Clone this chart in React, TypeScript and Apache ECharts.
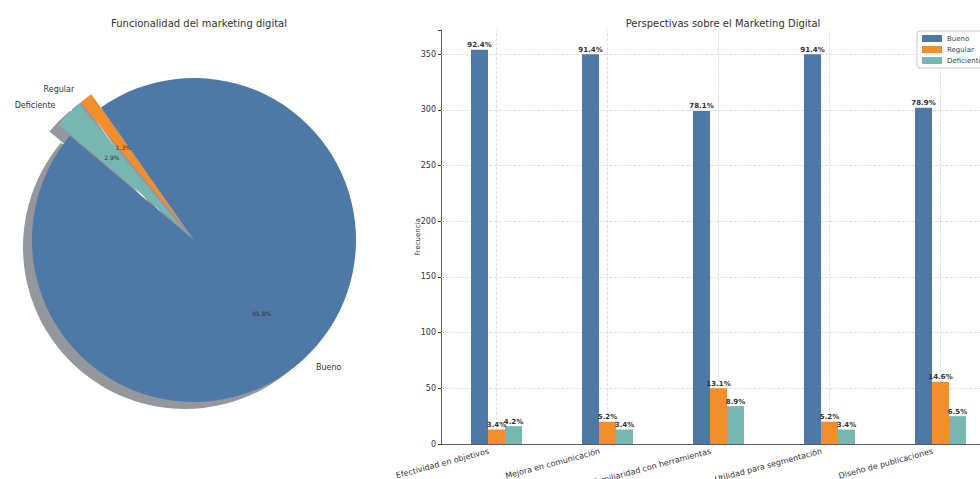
import React, { useEffect, useRef } from "react";
import * as echarts from "echarts";

// Pie: overall rating of digital marketing usefulness
const pieNames = ["Bueno", "Regular", "Deficiente"];
const pieValues = [367, 5, 11];
const pieExploded = [false, true, true];

// Grouped bars: answers per statement
const categories = [
  "Efectividad en objetivos",
  "Mejora en comunicación",
  "Familiaridad con herramientas",
  "Utilidad para segmentación",
  "Diseño de publicaciones",
];
const bueno = [354, 350, 299, 350, 302];
const regular = [13, 20, 50, 20, 56];
const deficiente = [16, 13, 34, 13, 25];
const yTicks = [0, 50, 100, 150, 200, 250, 300, 350];

const COLORS = ["#4e79a7", "#f28e2b", "#76b7b2"];
const FONT = "DejaVu Sans";

export default function App() {
  const ref = useRef<HTMLDivElement>(null);

  useEffect(() => {
    if (!ref.current) return;
    const chart = echarts.init(ref.current, undefined, { renderer: "svg" });

    const R = 162;
    const cx = 194;
    const cy = 240;
    const explodeOffset = R * 0.1;
    const pieTotal = pieValues.reduce((a, b) => a + b, 0);

    const pieData = (colorFn: (i: number) => string) =>
      pieNames.map((name, i) => ({
        name,
        value: pieValues[i],
        selected: pieExploded[i],
        itemStyle: { color: colorFn(i) },
      }));

    const pieCommon = {
      type: "pie" as const,
      startAngle: 140,
      clockwise: false,
      selectedMode: "multiple" as const,
      selectedOffset: explodeOffset,
      avoidLabelOverlap: false,
      silent: true,
      emphasis: { disabled: true },
      legendHoverLink: false,
    };

    const groups = [bueno, regular, deficiente];
    const totals = categories.map((_, i) => bueno[i] + regular[i] + deficiente[i]);
    const yMax = Math.max(...bueno, ...regular, ...deficiente) * 1.05;

    const barSeries = pieNames.map((name, s) => ({
      type: "bar" as const,
      name,
      data: groups[s],
      barWidth: 17,
      barGap: "0%",
      itemStyle: { color: COLORS[s] },
      z: 3,
      label: {
        show: true,
        position: "top" as const,
        distance: 1,
        fontFamily: FONT,
        fontSize: 7,
        fontWeight: "bold" as const,
        color: "#333",
        formatter: (p: any) =>
          ((groups[s][p.dataIndex] / totals[p.dataIndex]) * 100).toFixed(1) + "%",
      },
    }));

    chart.setOption({
      animation: false,
      textStyle: { fontFamily: FONT },
      title: [
        {
          text: "Funcionalidad del marketing digital",
          left: cx,
          top: 13,
          textAlign: "center",
          textStyle: { fontFamily: FONT, fontSize: 10, fontWeight: "normal", color: "#333" },
        },
        {
          text: "Perspectivas sobre el Marketing Digital",
          left: 718,
          top: 13,
          textAlign: "center",
          textStyle: { fontFamily: FONT, fontSize: 10, fontWeight: "normal", color: "#333" },
        },
      ],
      legend: {
        data: pieNames,
        orient: "vertical",
        left: 917,
        top: 31,
        itemWidth: 20,
        itemHeight: 7,
        itemGap: 4,
        padding: [4, 5],
        borderColor: "#cccccc",
        borderWidth: 1,
        borderRadius: 3,
        backgroundColor: "#ffffff",
        icon: "rect",
        textStyle: { fontFamily: FONT, fontSize: 7, color: "#444" },
        selectedMode: false,
      },
      grid: {
        left: 441,
        width: 555,
        top: 30,
        bottom: 35,
        containLabel: false,
        outerBoundsMode: "none",
      },
      xAxis: {
        type: "category",
        data: categories,
        axisLine: { lineStyle: { color: "#333", width: 0.8 } },
        axisTick: { alignWithLabel: true, length: 3, lineStyle: { color: "#333" } },
        axisLabel: {
          rotate: 15,
          interval: 0,
          hideOverlap: false,
          fontFamily: FONT,
          fontSize: 8,
          color: "#333",
          margin: 5,
          padding: [0, 8, 0, 0],
        },
        splitLine: { show: false },
      },
      yAxis: {
        type: "value",
        min: 0,
        max: yMax,
        interval: 50,
        name: "Frecuencia",
        nameLocation: "middle",
        nameGap: 20,
        nameMoveOverlap: false,
        nameTextStyle: { fontFamily: FONT, fontSize: 7, color: "#333" },
        axisLine: { show: true, lineStyle: { color: "#333", width: 0.8 } },
        axisTick: { show: true, length: 3, lineStyle: { color: "#333" } },
        axisLabel: {
          fontFamily: FONT,
          fontSize: 8,
          color: "#333",
          margin: 5,
          formatter: (v: number) => (yTicks.includes(v) ? String(v) : ""),
        },
        splitLine: { show: false },
      },
      series: [
        // drop shadow under the pie
        {
          ...pieCommon,
          name: "sombra",
          center: [cx - 9, cy + 7],
          radius: [0, R],
          label: { show: false },
          labelLine: { show: false },
          data: pieData(() => "#94979c"),
          z: 1,
        },
        // pie slices with outer names
        {
          ...pieCommon,
          name: "Funcionalidad",
          center: [cx, cy],
          radius: [0, R],
          label: {
            show: true,
            position: "outside",
            fontFamily: FONT,
            fontSize: 8,
            color: "#333",
          },
          labelLine: { show: false, length: explodeOffset - 5, length2: 0 },
          data: pieData((i) => COLORS[i]),
          z: 2,
        },
        // percentages placed at 0.6 of the radius
        {
          ...pieCommon,
          name: "porcentajes",
          center: [cx, cy],
          radius: [0, R * 1.2],
          label: {
            show: true,
            position: "inside",
            fontFamily: FONT,
            fontSize: 6,
            color: "#333",
            formatter: (p: any) => ((p.value / pieTotal) * 100).toFixed(1) + "%",
          },
          labelLine: { show: false },
          data: pieData(() => "rgba(0,0,0,0)"),
          z: 3,
        },
        ...barSeries,
        // dashed grid lines
        {
          type: "line",
          name: "grid",
          data: [],
          silent: true,
          z: 1,
          markLine: {
            silent: true,
            symbol: "none",
            z: 1,
            label: { show: false },
            lineStyle: { color: "#d9d9d9", type: "dashed", width: 0.8 },
            data: [
              ...categories.map((c) => ({ xAxis: c })),
              ...yTicks.filter((v) => v > 0).map((v) => ({ yAxis: v })),
            ],
          },
        },
      ],
    });

    return () => chart.dispose();
  }, []);

  return (
    <div
      ref={ref}
      style={{ position: "fixed", left: 0, top: 0, width: 980, height: 479, background: "#fff" }}
    />
  );
}
